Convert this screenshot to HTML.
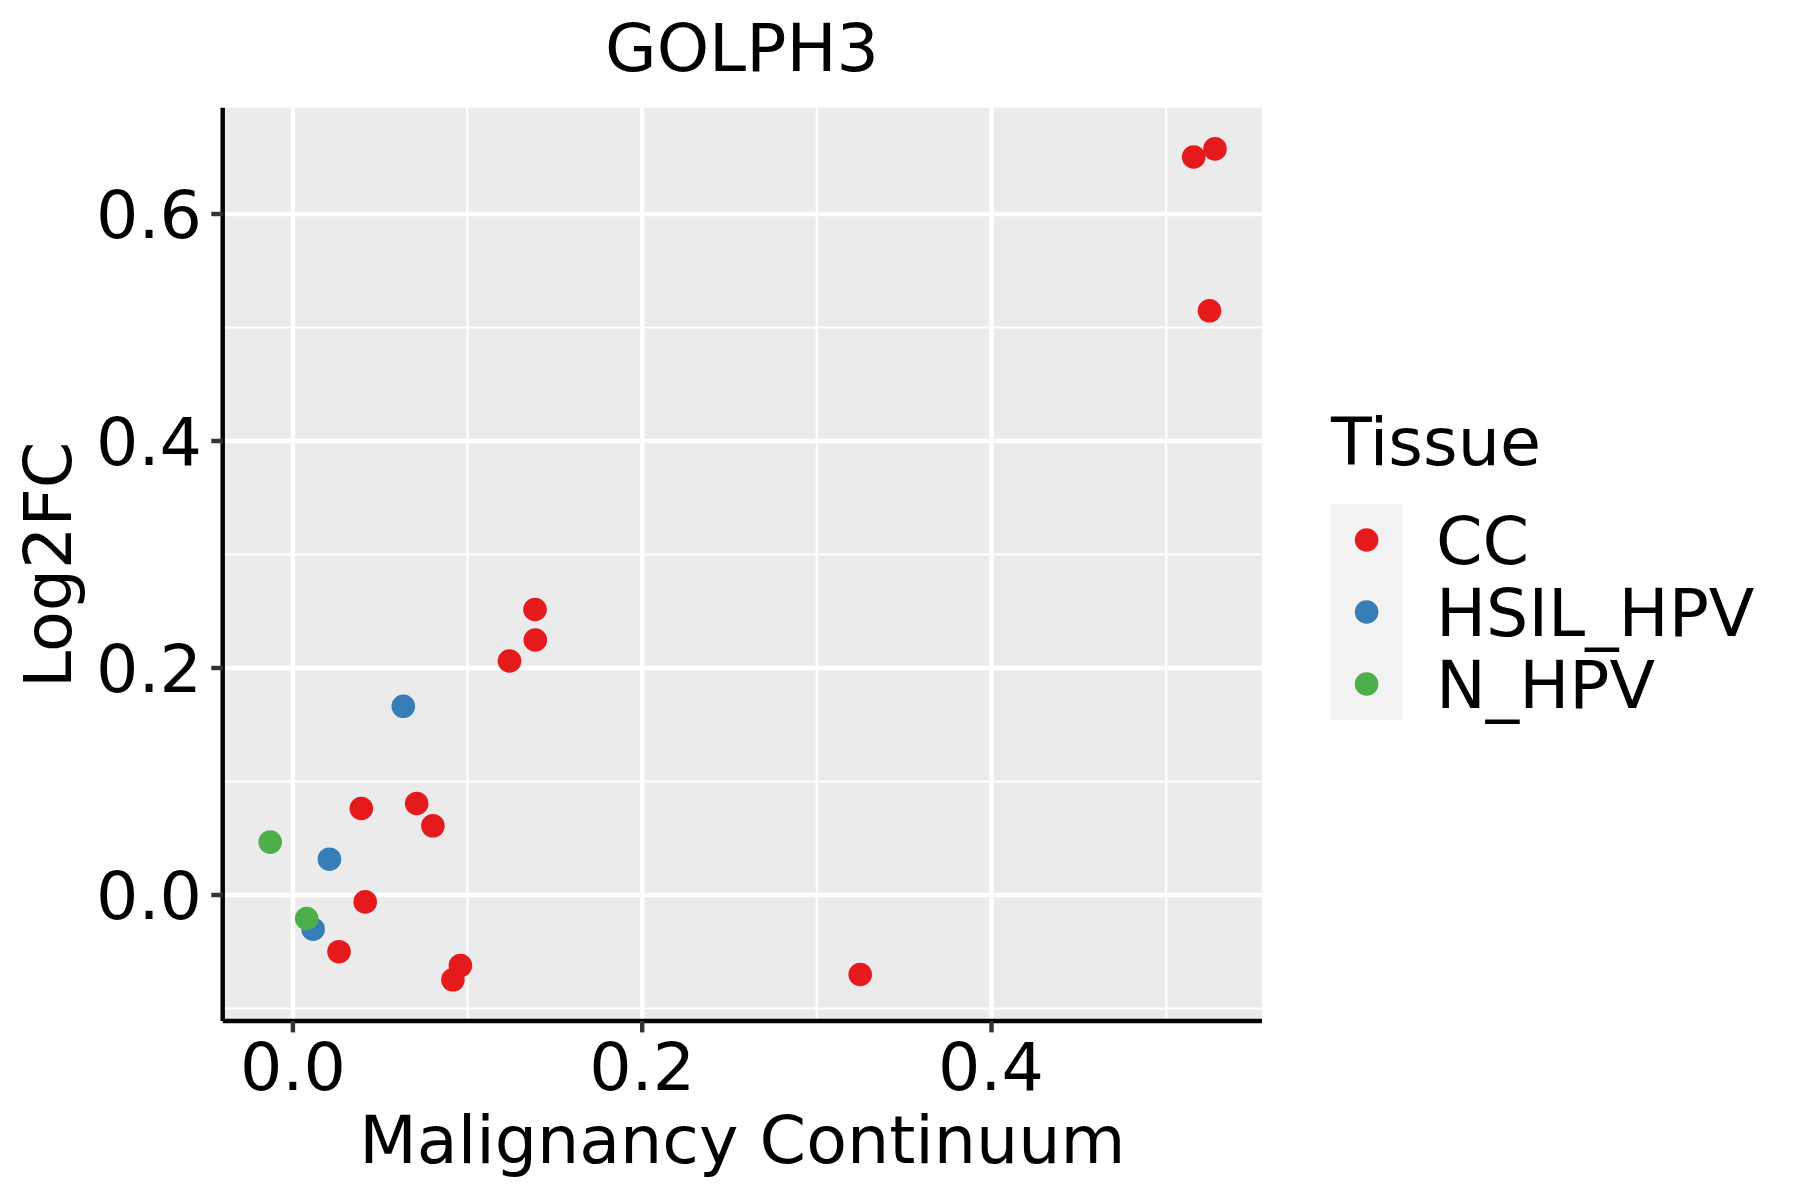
<!DOCTYPE html>
<html lang="en"><head><meta charset="utf-8"><title>GOLPH3</title>
<style>html,body{margin:0;padding:0;background:#fff;}body{width:1800px;height:1200px;overflow:hidden;}svg{display:block;}text{font-family:"DejaVu Sans","Liberation Sans",sans-serif;font-size:66.67px;fill:#000;}</style></head><body>
<svg width="1800" height="1200" viewBox="0 0 1800 1200">
<rect width="1800" height="1200" fill="#fff"/>
<rect x="222.7" y="107.7" width="1039.3" height="913.3" fill="#EBEBEB"/>
<g stroke="#fff" stroke-width="2.2" fill="none">
<line x1="467.5" x2="467.5" y1="107.7" y2="1021.0"/>
<line x1="816.8" x2="816.8" y1="107.7" y2="1021.0"/>
<line x1="1166.2" x2="1166.2" y1="107.7" y2="1021.0"/>
<line y1="1008.5" y2="1008.5" x1="222.7" x2="1262.0"/>
<line y1="781.5" y2="781.5" x1="222.7" x2="1262.0"/>
<line y1="554.5" y2="554.5" x1="222.7" x2="1262.0"/>
<line y1="327.5" y2="327.5" x1="222.7" x2="1262.0"/>
</g>
<g stroke="#fff" stroke-width="4.45" fill="none">
<line x1="292.9" x2="292.9" y1="107.7" y2="1021.0"/>
<line x1="642.2" x2="642.2" y1="107.7" y2="1021.0"/>
<line x1="991.5" x2="991.5" y1="107.7" y2="1021.0"/>
<line y1="895.0" y2="895.0" x1="222.7" x2="1262.0"/>
<line y1="668.0" y2="668.0" x1="222.7" x2="1262.0"/>
<line y1="441.0" y2="441.0" x1="222.7" x2="1262.0"/>
<line y1="214.0" y2="214.0" x1="222.7" x2="1262.0"/>
</g>
<g>
<circle cx="1193.7" cy="157.0" r="11.8" fill="#E41A1C"/>
<circle cx="1215.0" cy="148.9" r="11.8" fill="#E41A1C"/>
<circle cx="1209.5" cy="310.8" r="11.8" fill="#E41A1C"/>
<circle cx="535.0" cy="609.5" r="11.8" fill="#E41A1C"/>
<circle cx="535.3" cy="640.0" r="11.8" fill="#E41A1C"/>
<circle cx="509.5" cy="661.0" r="11.8" fill="#E41A1C"/>
<circle cx="403.3" cy="706.3" r="11.8" fill="#377EB8"/>
<circle cx="361.3" cy="808.5" r="11.8" fill="#E41A1C"/>
<circle cx="416.7" cy="803.5" r="11.8" fill="#E41A1C"/>
<circle cx="432.9" cy="825.8" r="11.8" fill="#E41A1C"/>
<circle cx="270.2" cy="842.1" r="11.8" fill="#4DAF4A"/>
<circle cx="329.4" cy="859.2" r="11.8" fill="#377EB8"/>
<circle cx="365.2" cy="901.9" r="11.8" fill="#E41A1C"/>
<circle cx="313.1" cy="929.2" r="11.8" fill="#377EB8"/>
<circle cx="306.7" cy="918.5" r="11.8" fill="#4DAF4A"/>
<circle cx="339.0" cy="951.7" r="11.8" fill="#E41A1C"/>
<circle cx="460.4" cy="965.6" r="11.8" fill="#E41A1C"/>
<circle cx="452.9" cy="979.8" r="11.8" fill="#E41A1C"/>
<circle cx="860.2" cy="974.5" r="11.8" fill="#E41A1C"/>
</g>
<g stroke="#000" stroke-width="4.45" fill="none"><line x1="222.7" x2="222.7" y1="107.7" y2="1021.0"/><line x1="222.7" x2="1262.0" y1="1021.0" y2="1021.0"/></g>
<g stroke="#333" stroke-width="4.45" fill="none">
<line x1="292.9" x2="292.9" y1="1021.0" y2="1032.4"/>
<line x1="642.2" x2="642.2" y1="1021.0" y2="1032.4"/>
<line x1="991.5" x2="991.5" y1="1021.0" y2="1032.4"/>
<line y1="895.0" y2="895.0" x1="211.3" x2="222.7"/>
<line y1="668.0" y2="668.0" x1="211.3" x2="222.7"/>
<line y1="441.0" y2="441.0" x1="211.3" x2="222.7"/>
<line y1="214.0" y2="214.0" x1="211.3" x2="222.7"/>
</g>
<text x="292.9" y="1089.6" text-anchor="middle">0.0</text>
<text x="642.2" y="1089.6" text-anchor="middle">0.2</text>
<text x="990.9" y="1089.6" text-anchor="middle">0.4</text>
<text x="202" y="919.2" text-anchor="end">0.0</text>
<text x="202" y="692.2" text-anchor="end">0.2</text>
<text x="202" y="465.2" text-anchor="end">0.4</text>
<text x="202" y="238.2" text-anchor="end">0.6</text>
<text x="742.0" y="70.8" text-anchor="middle">GOLPH3</text>
<text x="742.4" y="1163" text-anchor="middle">Malignancy Continuum</text>
<text transform="translate(71.2,564.9) rotate(-90)" text-anchor="middle">Log2FC</text>
<text x="1331" y="464.5">Tissue</text>
<rect x="1330.6" y="503.9" width="72" height="216" fill="#F2F2F2"/>
<circle cx="1366.6" cy="540" r="11.8" fill="#E41A1C"/>
<text x="1436.0" y="564.4">CC</text>
<circle cx="1366.6" cy="612" r="11.8" fill="#377EB8"/>
<text x="1436.0" y="636.4">HSIL_HPV</text>
<circle cx="1366.6" cy="684" r="11.8" fill="#4DAF4A"/>
<text x="1436.0" y="708.4">N_HPV</text>
</svg></body></html>
